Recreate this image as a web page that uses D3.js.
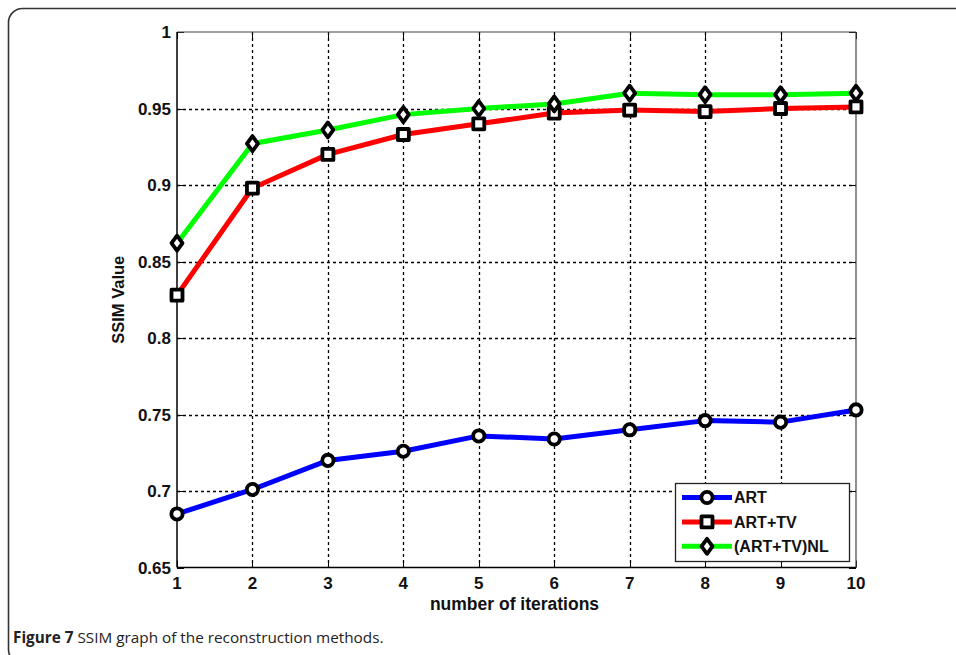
<!DOCTYPE html>
<html>
<head>
<meta charset="utf-8">
<script src="https://cdn.jsdelivr.net/npm/d3@7/dist/d3.min.js"></script>
<style>
  html, body { margin: 0; padding: 0; background: #fff; }
  svg { display: block; }
</style>
</head>
<body>
<div id="chart"></div>
<script>
// SSIM vs number of iterations
const iterations = [1, 2, 3, 4, 5, 6, 7, 8, 9, 10];
const artValues = [0.685, 0.701, 0.720, 0.726, 0.736, 0.734, 0.740, 0.746, 0.745, 0.753];
const artTvValues = [0.828, 0.898, 0.920, 0.933, 0.940, 0.947, 0.949, 0.948, 0.950, 0.951];
const artTvNlValues = [0.862, 0.927, 0.936, 0.946, 0.950, 0.953, 0.960, 0.959, 0.959, 0.960];
const seriesNames = ['ART', 'ART+TV', '(ART+TV)NL'];
const yTicks = [0.65, 0.7, 0.75, 0.8, 0.85, 0.9, 0.95, 1];
const yTickLabels = ['0.65', '0.7', '0.75', '0.8', '0.85', '0.9', '0.95', '1'];

const W = 956, H = 655;
const plot = { left: 177, right: 856, top: 32, bottom: 567.5 };

const series = [
  { name: seriesNames[0], values: artValues, color: '#0000ff', marker: 'circle' },
  { name: seriesNames[1], values: artTvValues, color: '#ff0000', marker: 'square' },
  { name: seriesNames[2], values: artTvNlValues, color: '#00ff00', marker: 'diamond' }
];

const svg = d3.select('#chart').append('svg')
  .attr('width', W).attr('height', H)
  .style('font-family', '"Liberation Sans", Arial, sans-serif');

// outer figure frame (rounded, runs off right/bottom)
svg.append('rect')
  .attr('x', 8.5).attr('y', 8.5).attr('width', 1000).attr('height', 655)
  .attr('rx', 14).attr('fill', 'none').attr('stroke', '#333').attr('stroke-width', 1.6);

const x = d3.scaleLinear().domain([1, 10]).range([plot.left, plot.right]);
const y = d3.scaleLinear().domain([0.65, 1]).range([plot.bottom, plot.top]);

const g = svg.append('g');

// grid
g.selectAll('.vgrid').data(iterations.slice(1, -1)).enter().append('line')
  .attr('x1', d => Math.round(x(d)) + 0.5).attr('x2', d => Math.round(x(d)) + 0.5)
  .attr('y1', plot.top).attr('y2', plot.bottom)
  .attr('stroke', '#000').attr('stroke-width', 1.3).attr('stroke-dasharray', '3,3');
g.selectAll('.hgrid').data(yTicks.slice(1, -1)).enter().append('line')
  .attr('y1', d => Math.round(y(d)) + 0.5).attr('y2', d => Math.round(y(d)) + 0.5)
  .attr('x1', plot.left).attr('x2', plot.right)
  .attr('stroke', '#000').attr('stroke-width', 1.3).attr('stroke-dasharray', '3,3');

// inward ticks on all sides
const tickLen = 7;
iterations.forEach(d => {
  const px = Math.round(x(d)) + 0.5;
  g.append('line').attr('x1', px).attr('x2', px).attr('y1', plot.bottom).attr('y2', plot.bottom - tickLen).attr('stroke', '#000');
  g.append('line').attr('x1', px).attr('x2', px).attr('y1', plot.top).attr('y2', plot.top + tickLen).attr('stroke', '#000');
});
yTicks.forEach(d => {
  const py = Math.round(y(d)) + 0.5;
  g.append('line').attr('y1', py).attr('y2', py).attr('x1', plot.left).attr('x2', plot.left + tickLen).attr('stroke', '#000');
  g.append('line').attr('y1', py).attr('y2', py).attr('x1', plot.right).attr('x2', plot.right - tickLen).attr('stroke', '#000');
});

// axes box
g.append('line').attr('x1', plot.left).attr('x2', plot.right).attr('y1', plot.top).attr('y2', plot.top).attr('stroke', '#444').attr('stroke-width', 1.2);
g.append('line').attr('x1', plot.right).attr('x2', plot.right).attr('y1', plot.top).attr('y2', plot.bottom).attr('stroke', '#444').attr('stroke-width', 1.2);
g.append('line').attr('x1', plot.left).attr('x2', plot.left).attr('y1', plot.top).attr('y2', plot.bottom).attr('stroke', '#000').attr('stroke-width', 1.5);
g.append('line').attr('x1', plot.left).attr('x2', plot.right).attr('y1', plot.bottom).attr('y2', plot.bottom).attr('stroke', '#000').attr('stroke-width', 1.5);

// tick labels
g.selectAll('.ylab').data(yTicks).enter().append('text')
  .attr('x', plot.left - 6).attr('y', d => y(d)).attr('dy', '0.36em')
  .attr('text-anchor', 'end').style('font-size', '17px').style('font-weight', 'bold').attr('fill', '#111')
  .text((d, i) => yTickLabels[i]);
g.selectAll('.xlab').data(iterations).enter().append('text')
  .attr('x', d => x(d)).attr('y', 589)
  .attr('text-anchor', 'middle').style('font-size', '17px').style('font-weight', 'bold').attr('fill', '#111')
  .text(d => d);

// axis titles
svg.append('text').attr('x', (plot.left + plot.right) / 2 - 2).attr('y', 610)
  .attr('text-anchor', 'middle').style('font-size', '17.5px').style('font-weight', 'bold').attr('fill', '#111')
  .text('number of iterations');
svg.append('text').attr('transform', `translate(124,${(plot.top + plot.bottom) / 2}) rotate(-90)`)
  .attr('text-anchor', 'middle').style('font-size', '16.5px').style('font-weight', 'bold').attr('fill', '#111')
  .text('SSIM Value');

// marker shapes
function markerPath(type) {
  if (type === 'circle') return d3.symbol(d3.symbolCircle, 100)();
  if (type === 'square') return 'M-5.5,-5.5H5.5V5.5H-5.5Z';
  return 'M0,-7.5L5.5,0L0,7.5L-5.5,0Z';
}

// series lines + markers
const line = d3.line().x((d, i) => x(iterations[i])).y(d => y(d));
series.forEach(s => {
  g.append('path').datum(s.values).attr('d', line)
    .attr('fill', 'none').attr('stroke', s.color).attr('stroke-width', 5).attr('stroke-linejoin', 'round');
});
series.forEach(s => {
  g.selectAll(null).data(s.values).enter().append('path')
    .attr('d', markerPath(s.marker))
    .attr('transform', (d, i) => `translate(${x(iterations[i])},${y(d)})`)
    .attr('fill', '#fff').attr('stroke', '#000').attr('stroke-width', 3.8).attr('stroke-linejoin', 'round');
});

// legend
const lg = svg.append('g').attr('transform', 'translate(675,483)');
lg.append('rect').attr('x', 0.5).attr('y', 0.5).attr('width', 174).attr('height', 78)
  .attr('fill', '#fff').attr('stroke', '#222').attr('stroke-width', 1.3);
series.forEach((s, i) => {
  const ry = 14.5 + i * 24.4;
  lg.append('line').attr('x1', 7).attr('x2', 57).attr('y1', ry).attr('y2', ry)
    .attr('stroke', s.color).attr('stroke-width', 5);
  lg.append('path').attr('d', markerPath(s.marker)).attr('transform', `translate(32,${ry})`)
    .attr('fill', '#fff').attr('stroke', '#000').attr('stroke-width', 3.8).attr('stroke-linejoin', 'round');
  lg.append('text').attr('x', 59).attr('y', ry).attr('dy', '0.36em')
    .style('font-size', '16px').style('font-weight', 'bold').attr('fill', '#111')
    .text(s.name);
});

// caption
const cap = svg.append('text').attr('x', 13).attr('y', 643)
  .style('font-family', '"Open Sans", "Noto Sans", sans-serif').style('font-size', '15.3px').attr('fill', '#222');
cap.append('tspan').style('font-weight', 'bold').text('Figure 7');
cap.append('tspan').text(' SSIM graph of the reconstruction methods.');
</script>
</body>
</html>
